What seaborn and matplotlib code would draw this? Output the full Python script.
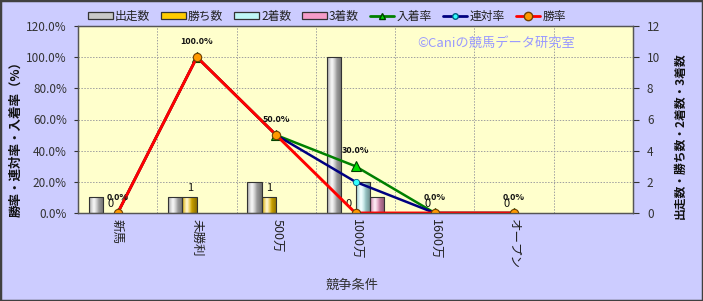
import numpy as np
import pandas as pd
import matplotlib
matplotlib.use("Agg")
import matplotlib.pyplot as plt
import seaborn as sns
from matplotlib.patches import Rectangle
from matplotlib.lines import Line2D
from matplotlib.colors import to_rgb

# ---------------- data ----------------
categories = ["新馬", "未勝利", "500万", "1000万", "1600万", "オープン"]
starts = [1, 1, 2, 10, 0, 0]
wins = [0, 1, 1, 0, 0, 0]
seconds = [0, 0, 0, 2, 0, 0]
thirds = [0, 0, 0, 1, 0, 0]
place_rate = [0.0, 100.0, 50.0, 30.0, 0.0, 0.0]
rentai_rate = [0.0, 100.0, 50.0, 20.0, 0.0, 0.0]
win_rate = [0.0, 100.0, 50.0, 0.0, 0.0, 0.0]

bar_names = ["出走数", "勝ち数", "2着数", "3着数"]
line_names = ["入着率", "連対率", "勝率"]

# ---------------- styling ----------------
bar_colors = ["#C8C8C8", "#FFCC00", "#BFF7F7", "#F59CC8"]
sns.set_theme(style="white")
plt.rcParams["font.family"] = ["Noto Sans CJK JP", "DejaVu Sans"]

W, H = 703, 301
fig = plt.figure(figsize=(W / 100, H / 100), dpi=100, facecolor="#CCCCFF")
L, R, T, B = 78, 633, 26, 213
ax = fig.add_axes([L / W, 1 - B / H, (R - L) / W, (B - T) / H])
ax.set_facecolor("#FFFFCC")

df = pd.DataFrame({
    "cat": categories * 4,
    "series": sum([[n] * len(categories) for n in bar_names], []),
    "val": starts + wins + seconds + thirds,
})

sns.barplot(data=df, x="cat", y="val", hue="series", order=categories,
            hue_order=bar_names, palette=bar_colors, width=0.73, ax=ax,
            edgecolor="#333333", linewidth=0.8, legend=False, saturation=1)

# cylinder-like shading on bars
def shade_bars(axis):
    xl, yl = axis.get_xlim(), axis.get_ylim()
    n = 64
    t = np.linspace(0, 1, n)
    hi = np.clip(1 - np.abs(t - 0.33) / 0.33, 0, 1) * 0.85
    dark = 1 - 0.45 * np.clip((t - 0.33) / 0.67, 0, 1) - 0.25 * np.clip((0.33 - t) / 0.33, 0, 1)
    for p in list(axis.patches):
        h = p.get_height()
        if h <= 0:
            p.set_visible(False)
            continue
        c = np.array(to_rgb(p.get_facecolor()))
        cols = c[None, :] * dark[:, None]
        cols = cols * (1 - hi[:, None]) + hi[:, None]
        img = cols[None, :, :]
        x0, y0, w = p.get_x(), p.get_y(), p.get_width()
        im = axis.imshow(img, extent=[x0, x0 + w, y0, y0 + h], aspect="auto",
                         zorder=p.get_zorder() - 0.01, interpolation="bilinear")
        im.set_clip_path(p)
        p.set_facecolor("none")
    axis.set_xlim(xl)
    axis.set_ylim(yl)

ax.set_xlim(-0.5, 6.5)
ax.set_ylim(0, 12)
shade_bars(ax)

# wins labels
ax.bar_label(ax.containers[1], labels=[str(v) for v in wins], padding=3,
             fontsize=8, color="#111111")

ax.set_xlim(-0.5, 6.5)
ax.set_ylim(0, 12)
ax.set_xticks(range(len(categories)))
ax.set_xticklabels(categories, rotation=-90, fontsize=9, color="#222222")
ax.set_xticks(np.arange(0.5, 6.0, 1), minor=True)
ax.set_yticks(range(0, 13, 2))
ax.set_axisbelow(True)
ax.grid(which="minor", axis="x", color="#A0A0A0", linestyle=(0, (1.5, 1.5)), lw=0.7)
ax.grid(which="major", axis="y", color="#A0A0A0", linestyle=(0, (1.5, 1.5)), lw=0.7)
ax.grid(which="major", axis="x", visible=False)
ax.set_xlabel("")
ax.set_ylabel("")

ax2 = ax.twinx()
ax.yaxis.tick_right()
ax.yaxis.set_label_position("right")
ax2.yaxis.tick_left()
ax2.yaxis.set_label_position("left")

idx = np.arange(len(categories))
sns.lineplot(x=idx, y=place_rate, ax=ax2, color="#008000", lw=1.8, marker="^",
             markersize=6.5, markerfacecolor="#00DD00", markeredgecolor="#004000",
             markeredgewidth=0.8)
sns.lineplot(x=idx, y=rentai_rate, ax=ax2, color="#000080", lw=1.8, marker="o",
             markersize=4.5, markerfacecolor="#33FFFF", markeredgecolor="#006080",
             markeredgewidth=0.6)
sns.lineplot(x=idx, y=win_rate, ax=ax2, color="#FF0000", lw=2.1, marker="o",
             markersize=6, markerfacecolor="#FF9900", markeredgecolor="#704000",
             markeredgewidth=0.8)

for i, v in enumerate(place_rate):
    ax2.annotate(f"{v:.1f}%", (i, v), xytext=(0, 11.5), textcoords="offset points",
                 ha="center", va="center", fontsize=6.5, weight="bold", color="#111111")

ax2.set_ylim(0, 120)
ax2.set_xlim(-0.5, 6.5)
ax2.set_yticks(range(0, 121, 20))
ax2.set_yticklabels([f"{v:.1f}%" for v in range(0, 121, 20)])
ax2.set_xlabel("")
ax2.set_ylabel("")

ax.tick_params(axis="y", right=True, left=False, length=4, width=0.8,
               color="#333333", labelsize=8.5, labelcolor="#333333", pad=6)
ax.tick_params(axis="x", which="both", length=0, pad=4)
ax2.tick_params(axis="y", left=True, right=False, length=3, width=0.8,
                color="#333333", labelsize=8.5, labelcolor="#333333", pad=5)

for a in (ax, ax2):
    for s in a.spines.values():
        s.set_color("#555555")
        s.set_linewidth(0.9)

# axis titles
fig.text(16 / W, 1 - 136 / H, "勝率・連対率・入着率（%）", rotation=90, ha="center",
         va="center", fontsize=9, weight="bold", color="#111111")
fig.text(680 / W, 1 - 136 / H, "出走数・勝ち数・2着数・3着数", rotation=90, ha="center",
         va="center", fontsize=8.5, weight="bold", color="#111111")
fig.text(352 / W, 1 - 285 / H, "競争条件", ha="center", va="center",
         fontsize=9.5, color="#333333")
fig.text(496 / W, 1 - 43 / H, "©Caniの競馬データ研究室", ha="center", va="center",
         fontsize=9.5, color="#9999FF")

# legend
handles = [Rectangle((0, 0), 1, 1, facecolor=c, edgecolor="#333333", lw=0.9)
           for c in bar_colors]
handles += [
    Line2D([], [], color="#008000", lw=2, marker="^", markersize=5,
           markerfacecolor="#00DD00", markeredgecolor="#004000"),
    Line2D([], [], color="#000080", lw=2, marker="o", markersize=4,
           markerfacecolor="#33FFFF", markeredgecolor="#006080"),
    Line2D([], [], color="#FF0000", lw=2, marker="o", markersize=6,
           markerfacecolor="#FF9900", markeredgecolor="#704000"),
]
fig.legend(handles, bar_names + line_names, ncol=7, loc="center",
           bbox_to_anchor=(327 / W, 1 - 16.5 / H), frameon=False, fontsize=8.5,
           handlelength=2.1, handleheight=0.5, columnspacing=0.9,
           handletextpad=0.2, labelcolor="#222222")

fig.patches.append(Rectangle((0, 0), 1, 1, transform=fig.transFigure, fill=False,
                             edgecolor="#404040", lw=2.5))

fig.savefig("out.png", dpi=100, facecolor=fig.get_facecolor())
